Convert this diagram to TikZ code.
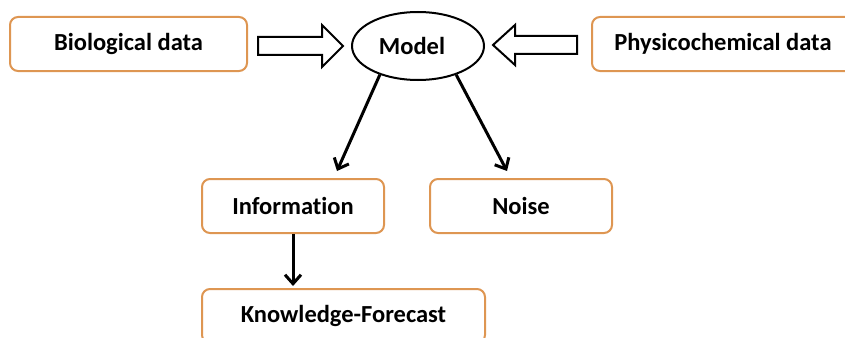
\documentclass[tikz,border=0pt]{standalone}
\usepackage{fontspec}
\setmainfont[Ligatures=NoCommon]{Carlito}
\usetikzlibrary{arrows.meta,shapes.geometric,calc}
\definecolor{boxorange}{RGB}{222,150,82}
\begin{document}
\begin{tikzpicture}[x=1pt,y=-1pt,
  lbl/.style={font=\fontsize{24.5}{28}\selectfont\bfseries,text=black},
  box/.style={lbl,draw=boxorange,line width=2pt,rounded corners=8pt,fill=white,inner sep=0pt},
  arr/.style={line width=3pt,-{Straight Barb[length=9pt,width=16pt,line width=3pt]}},
  block/.style={draw=black,line width=2pt,fill=white,line join=miter}]
\useasboundingbox (0,0) rectangle (845,337);
\node[box,minimum width=237pt,minimum height=54pt] (bio) at (128.5,44) {Biological data};
\node[box,minimum width=262pt,minimum height=54pt] (phys) at (723,44) {Physicochemical data};
\node[lbl,draw=black,line width=2pt,ellipse,minimum width=132pt,minimum height=68pt,inner sep=0pt,
  text width=90pt,align=center] (model) at (418,46) {\hspace*{-12pt}Model};
\node[box,minimum width=182pt,minimum height=54pt] (info) at (293,206) {Information};
\node[box,minimum width=182pt,minimum height=54pt] (noise) at (521,206) {Noise};
\node[box,minimum width=283pt,minimum height=54pt] (know) at (343.5,316) {Knowledge-Forecast};
% block arrows
\draw[block] (258,37) -- (322,37) -- (322,25) -- (343,46) -- (322,67) -- (322,55) -- (258,55) -- cycle;
\draw[block] (577,36) -- (515,36) -- (515,25) -- (493,45) -- (515,65) -- (515,54) -- (577,54) -- cycle;
% arrows
\draw[arr] (model.217) -- ([xshift=44pt,yshift=7pt]info.north);
\draw[arr] (model.323) -- ([xshift=-14pt,yshift=7pt]noise.north);
\draw[arr] (info.south) -- ([yshift=2pt]info.south |- know.north);
\end{tikzpicture}
\end{document}
